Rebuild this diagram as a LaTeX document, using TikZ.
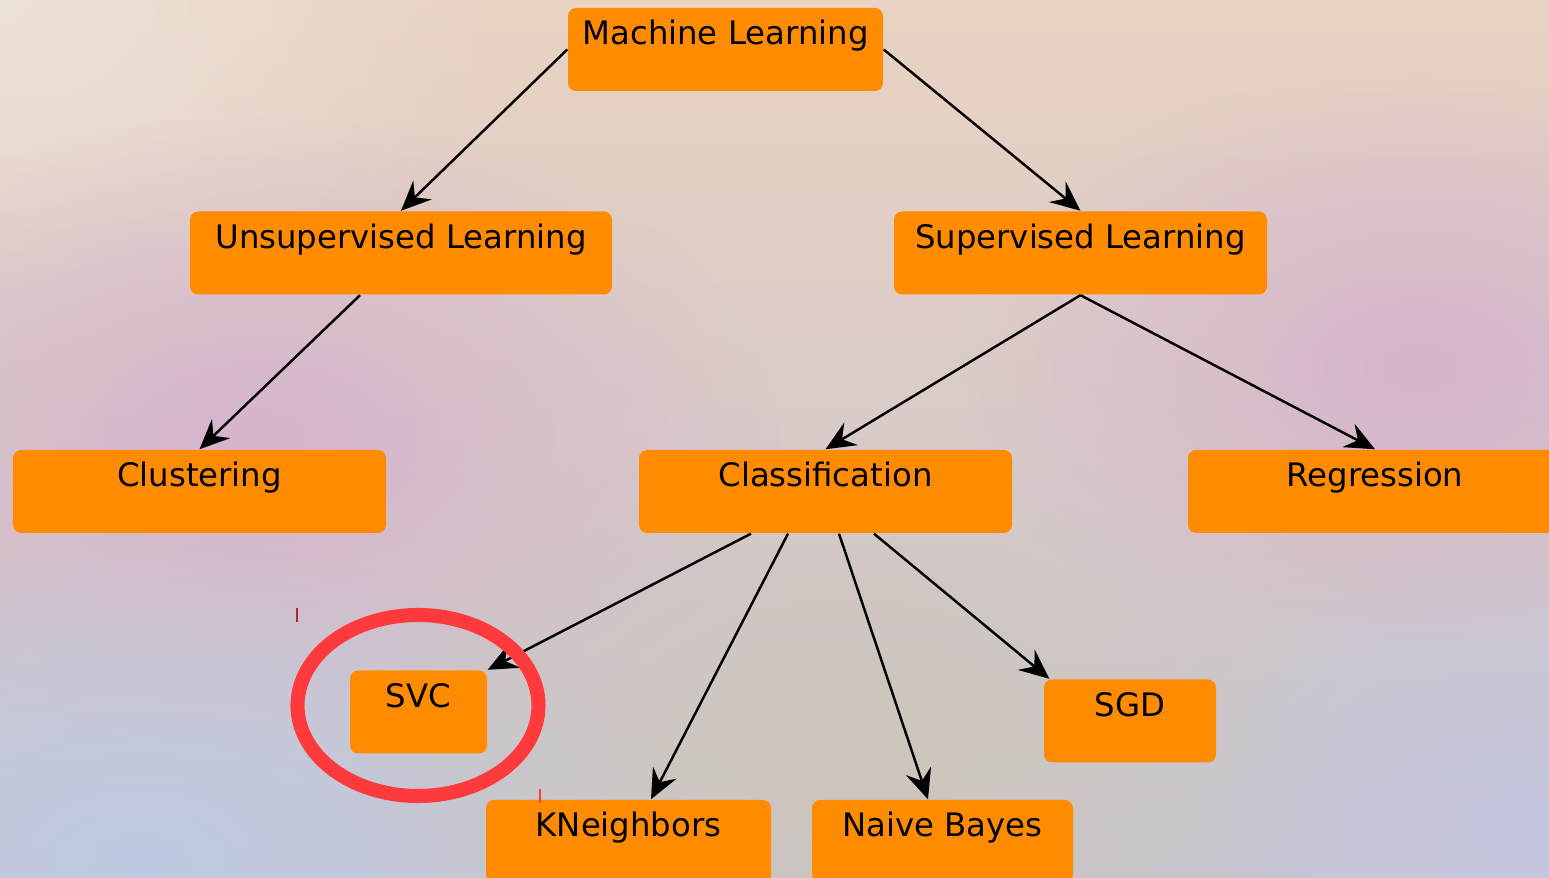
\documentclass[tikz,border=0pt]{standalone}
\usepackage{fontspec}
\setmainfont{DejaVu Sans}
\usetikzlibrary{calc,arrows.meta,fadings}
\definecolor{boxorange}{RGB}{255,140,0}
\definecolor{ringred}{RGB}{255,58,60}
\definecolor{bgtop}{RGB}{233,210,194}
\definecolor{bgmid}{RGB}{220,194,196}
\definecolor{bgbot}{RGB}{200,196,206}
\definecolor{blushpink}{RGB}{214,180,205}
\definecolor{mistblue}{RGB}{190,202,226}
\definecolor{sandgrey}{RGB}{205,198,188}
\definecolor{paleleft}{RGB}{237,226,216}
\tikzfading[name=glow, inner color=transparent!0, outer color=transparent!100]
\tikzset{
	box/.style={fill=boxorange, rounded corners=2.3pt, inner sep=0pt, text height=0.37cm, text depth=0.46cm, font=\fontsize{9.2}{11}\selectfont},
	link/.style={line width=0.7pt, -{Stealth[length=8.5pt,width=7.5pt,inset=3pt]}},
	blob/.style={path fading=glow}
}

\begin{document}
\begin{tikzpicture}
			%%%%% START %%%%%
			
			\shade[top color=bgtop, middle color=bgmid, bottom color=bgbot] (0, 0) rectangle (15.49, 8.78);
			\begin{scope}
				\clip (0, 0) rectangle (15.49, 8.78);
				\fill[blob, paleleft] (0, 8.78) ellipse (5 and 3.6);
				\fill[blob, blushpink] (2.6, 4.4) ellipse (5.2 and 3.2);
				\fill[blob, blushpink] (14.2, 5.1) ellipse (4.6 and 3);
				\fill[blob, mistblue] (1.4, 0.2) ellipse (5.5 and 3.2);
				\fill[blob, mistblue!80!blushpink] (15.2, 0.5) ellipse (4.4 and 3);
				\fill[blob, sandgrey] (8.5, 1.2) ellipse (5 and 3.2);
			\end{scope}
			\useasboundingbox (0, 0) rectangle (15.49, 8.78);
			
			\node[box, minimum width=3.15cm] (ml) at (7.255, 8.285) {Machine Learning};
			
			\node[box, minimum width=4.22cm] (unsup) at (4.01, 6.25) {Unsupervised Learning};
			\node[box, minimum width=3.73cm] (sup) at (10.805, 6.25) {Supervised Learning};
			
			\node[box, minimum width=3.73cm] (clu) at (1.995, 3.865) {Clustering};
			\node[box, minimum width=3.73cm] (cls) at (8.255, 3.865) {Classification};
			\node[box, minimum width=3.74cm] (reg) at (13.75, 3.865) {Regression};
			
			\node[box, minimum width=1.37cm] (svc) at (4.185, 1.66) {SVC};
			\node[box, minimum width=1.72cm] (sgd) at (11.30, 1.57) {SGD};
			\node[box, minimum width=2.85cm] (knn) at (6.285, 0.365) {KNeighbors};
			\node[box, minimum width=2.61cm] (nb) at (9.425, 0.365) {Naive Bayes};
			
			\draw[link] (ml.west) -- (unsup.north);
			\draw[link] (ml.east) -- (sup.north);
			
			\draw[link] ($(unsup.south)+(-0.41, 0)$) -- (clu.north);
			\draw[link] (sup.south) -- (cls.north);
			\draw[link] (sup.south) -- (reg.north);
			
			\draw[link] ($(cls.south)+(-0.745, 0)$) -- (svc.north east);
			\draw[link] ($(cls.south)+(-0.375, 0)$) -- ($(knn.north)+(0.225, 0)$);
			\draw[link] ($(cls.south)+(0.135, 0)$) -- ($(nb.north)+(-0.145, 0)$);
			\draw[link] ($(cls.south)+(0.485, 0)$) -- ($(sgd.north west)+(0.06, 0)$);
			
			\draw[line width=4pt, color=ringred] (4.18, 1.725) ellipse (1.205 and 0.905);
			
			\draw[line width=0.3pt, color=ringred!70!black] (2.97, 2.70) -- (2.97, 2.56);
			\draw[line width=0.3pt, color=ringred] (5.40, 0.89) -- (5.40, 0.75);
			
			%%%%% END %%%%%
		\end{tikzpicture}
\end{document}
